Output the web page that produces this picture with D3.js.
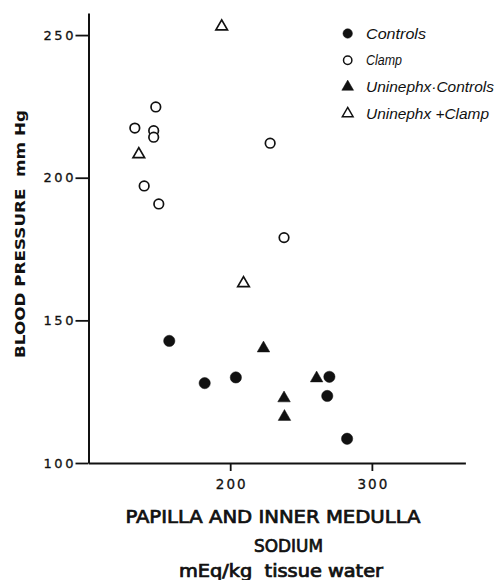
<!DOCTYPE html>
<html>
<head>
<meta charset="utf-8">
<script src="https://cdn.jsdelivr.net/npm/d3@7"></script>
<style>
  html, body { margin: 0; padding: 0; background: #fff; }
  svg { display: block; }
  text { white-space: pre; }
</style>
</head>
<body>
<script>
// ---- data ----
const controlsX = [157, 182, 204, 270, 268.5, 282.5];
const controlsY = [142.8, 128, 130, 130.2, 123.5, 108.5];

const clampX = [147.5, 132.7, 146, 146, 139.3, 149.6, 228.2, 238];
const clampY = [224.8, 217.4, 216.5, 214.2, 197.1, 190.8, 212.1, 179];

const uniControlsX = [223.5, 261, 238, 238.3];
const uniControlsY = [140.2, 129.7, 122.7, 116.2];

const uniClampX = [194, 135.5, 209.4];
const uniClampY = [253, 208.2, 163];

const xTicks = [200, 300];
const yTicks = [100, 150, 200, 250];

const legendLabels = ["Controls", "Clamp", "Uninephx\u00b7Controls", "Uninephx +Clamp"];
const yLabel = "BLOOD PRESSURE  mm Hg";
const xLabelLines = ["PAPILLA AND INNER MEDULLA", "SODIUM", "mEq/kg  tissue water"];

// ---- drawing ----
const W = 499, H = 580;
const svg = d3.select("body").append("svg").attr("width", W).attr("height", H);

const x = d3.scaleLinear().domain([100, 366]).range([88.5, 465.4]);
const y = d3.scaleLinear().domain([100, 257.7]).range([463, 13.1]);

const ink = "#111";

// axes
const yAxis = d3.axisLeft(y).tickValues(yTicks).tickSize(13).tickSizeOuter(0).tickPadding(2).tickFormat(d3.format("d"));
const gy = svg.append("g").attr("transform", `translate(${x(100)},0)`).call(yAxis);
gy.select(".domain").attr("stroke", ink).attr("stroke-width", 2);
gy.selectAll(".tick line").attr("stroke", ink).attr("stroke-width", 1.8);
gy.selectAll(".tick text")
  .attr("font-family", "DejaVu Sans").attr("font-size", 13).attr("fill", ink)
  .attr("stroke", ink).attr("stroke-width", 0.3)
  .attr("textLength", 30).attr("lengthAdjust", "spacing");

const xAxis = d3.axisBottom(x).tickValues(xTicks).tickSize(8).tickSizeOuter(0).tickPadding(8).tickFormat(d3.format("d"));
const gx = svg.append("g").attr("transform", `translate(0,${y(100)})`).call(xAxis);
gx.select(".domain").attr("stroke", ink).attr("stroke-width", 2);
gx.selectAll(".tick line").attr("stroke", ink).attr("stroke-width", 1.8);
gx.selectAll(".tick text")
  .attr("font-family", "DejaVu Sans").attr("font-size", 13.5).attr("fill", ink)
  .attr("stroke", ink).attr("stroke-width", 0.3)
  .attr("textLength", 30).attr("lengthAdjust", "spacing");

// axis titles
svg.append("text")
  .attr("transform", `translate(25,234) rotate(-90)`)
  .attr("text-anchor", "middle")
  .attr("font-family", "DejaVu Sans").attr("font-weight", "bold").attr("font-size", 14.6)
  .attr("fill", ink)
  .attr("textLength", 248).attr("lengthAdjust", "spacingAndGlyphs")
  .text(yLabel);

const xl = [
  {cx: 273, by: 522.5, fs: 18.5, len: 295},
  {cx: 288.5, by: 552, fs: 18.5, len: 69},
  {cx: 281, by: 577, fs: 17, len: 204}
];
xLabelLines.forEach((t, i) => {
  svg.append("text")
    .attr("x", xl[i].cx).attr("y", xl[i].by)
    .attr("text-anchor", "middle")
    .attr("font-family", "DejaVu Sans Condensed, DejaVu Sans")
    .attr("font-size", xl[i].fs)
    .attr("fill", ink).attr("stroke", ink).attr("stroke-width", 0.7)
    .attr("textLength", xl[i].len).attr("lengthAdjust", "spacingAndGlyphs")
    .text(t);
});

// symbols
const circleSym = d3.symbol().type(d3.symbolCircle);
const triSym = d3.symbol().type(d3.symbolTriangle);

function drawSeries(xs, ys, kind, filled) {
  const data = xs.map((v, i) => [v, ys[i]]);
  svg.append("g").selectAll("path").data(data).join("path")
    .attr("transform", d => `translate(${x(d[0])},${y(d[1])})`)
    .attr("d", kind === "circle"
      ? circleSym.size(filled ? 100 : 72)()
      : triSym.size(filled ? 68 : 58)())
    .attr("fill", filled ? ink : "#fff")
    .attr("stroke", ink)
    .attr("stroke-width", filled ? 0.5 : 1.7);
}

drawSeries(clampX, clampY, "circle", false);
drawSeries(uniClampX, uniClampY, "tri", false);
drawSeries(controlsX, controlsY, "circle", true);
drawSeries(uniControlsX, uniControlsY, "tri", true);

// legend
const legendKinds = [["circle", true], ["circle", false], ["tri", true], ["tri", false]];
const legendLens = [60, 36, 128, 123];
const lg = svg.append("g");
legendLabels.forEach((t, i) => {
  const cy = 33.5 + i * 26.7;
  const [kind, filled] = legendKinds[i];
  lg.append("path")
    .attr("transform", `translate(347.7,${cy})`)
    .attr("d", kind === "circle"
      ? circleSym.size(filled ? 70 : 55)()
      : triSym.size(filled ? 60 : 50)())
    .attr("fill", filled ? ink : "#fff")
    .attr("stroke", ink)
    .attr("stroke-width", filled ? 0.5 : 1.5);
  lg.append("text")
    .attr("x", 366).attr("y", cy + 5)
    .attr("font-family", "Liberation Sans, Arial, sans-serif")
    .attr("font-style", "italic").attr("font-size", 15)
    .attr("fill", ink)
    .attr("textLength", legendLens[i]).attr("lengthAdjust", "spacingAndGlyphs")
    .text(t);
});
</script>
</body>
</html>
